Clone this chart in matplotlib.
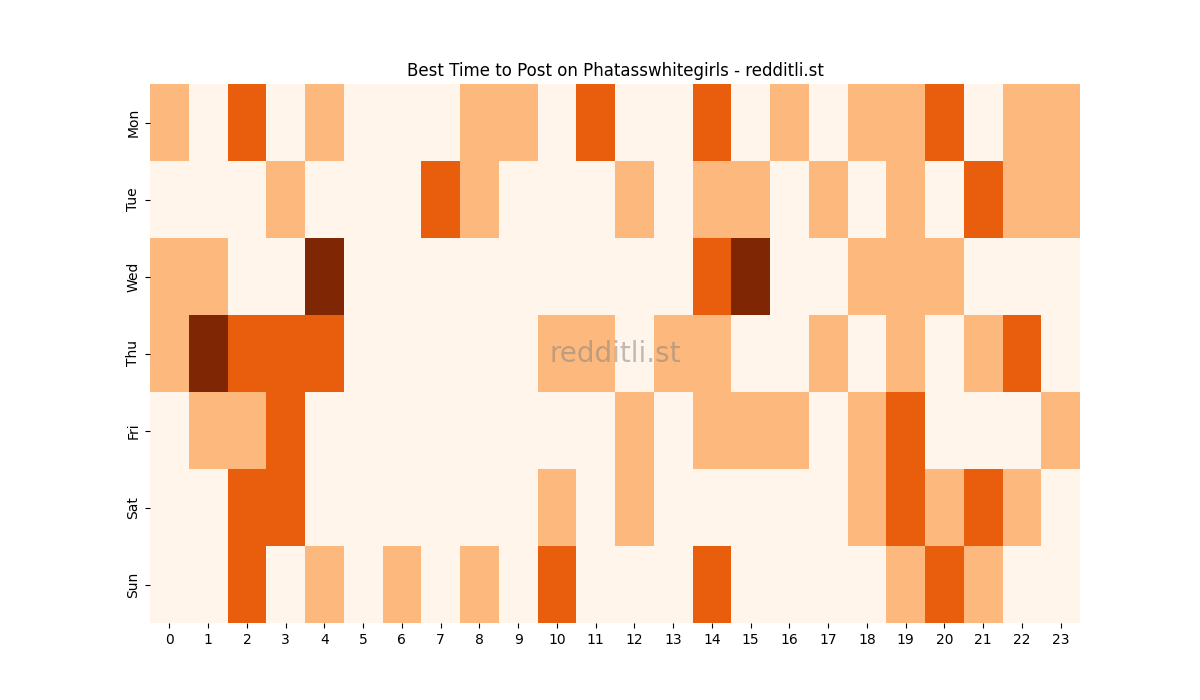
import matplotlib
matplotlib.use("Agg")
import matplotlib.pyplot as plt
import seaborn as sns
import numpy as np

days = ["Mon", "Tue", "Wed", "Thu", "Fri", "Sat", "Sun"]
hours = [str(h) for h in range(24)]
mon = [1,0,2,0,1,0,0,0,1,1,0,2,0,0,2,0,1,0,1,1,2,0,1,1]
tue = [0,0,0,1,0,0,0,2,1,0,0,0,1,0,1,1,0,1,0,1,0,2,1,1]
wed = [1,1,0,0,3,0,0,0,0,0,0,0,0,0,2,3,0,0,1,1,1,0,0,0]
thu = [1,3,2,2,2,0,0,0,0,0,1,1,0,1,1,0,0,1,0,1,0,1,2,0]
fri = [0,1,1,2,0,0,0,0,0,0,0,0,1,0,1,1,1,0,1,2,0,0,0,1]
sat = [0,0,2,2,0,0,0,0,0,0,1,0,1,0,0,0,0,0,1,2,1,2,1,0]
sun = [0,0,2,0,1,0,1,0,1,0,2,0,0,0,2,0,0,0,0,1,2,1,0,0]
data = np.array([mon, tue, wed, thu, fri, sat, sun])

fig = plt.figure(figsize=(12, 7), dpi=100)
ax = fig.add_subplot(111)
sns.heatmap(data, cmap="Oranges", cbar=False, ax=ax, xticklabels=hours, yticklabels=days)
ax.set_title("Best Time to Post on Phatasswhitegirls - redditli.st")
ax.text(0.5, 0.5, "redditli.st", transform=ax.transAxes, ha="center", va="center",
        fontsize=20, color="gray", alpha=0.5)
plt.yticks(rotation=90, va="center")
plt.xticks(rotation=0)
fig.savefig("out.png")
